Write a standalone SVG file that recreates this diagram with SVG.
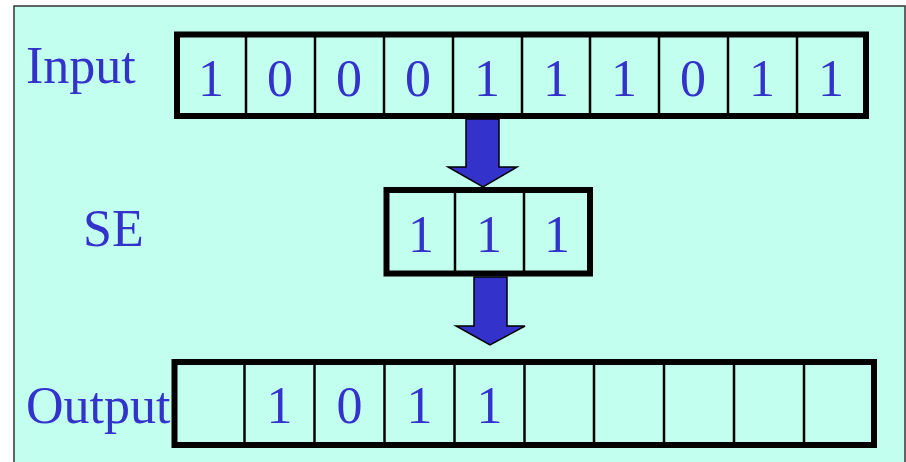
<svg xmlns="http://www.w3.org/2000/svg" width="906" height="462" viewBox="0 0 906 462">
<style>
.t{font-family:"Liberation Serif","Times New Roman",serif;font-size:52px;fill:#3333CC}
.d{text-anchor:middle}
.frame{fill:none;stroke:#000;stroke-width:6}
.div{stroke:#000;stroke-width:2.5}
.arrow{fill:#3333CC;stroke:#000;stroke-width:1.5}
</style>
<rect x="0" y="0" width="906" height="462" fill="#fff"/>
<rect x="14" y="6" width="891" height="460" fill="#C2FFEE" stroke="#333" stroke-width="1.5"/>
<g id="input">
<text class="t" x="26" y="83">Input</text>
<rect x="177" y="34.5" width="689" height="81.5" fill="#C2FFEE" class="frame"/>
<g class="div"><line x1="246" y1="34" x2="246" y2="116"/><line x1="315" y1="34" x2="315" y2="116"/><line x1="384" y1="34" x2="384" y2="116"/><line x1="453" y1="34" x2="453" y2="116"/><line x1="522" y1="34" x2="522" y2="116"/><line x1="590" y1="34" x2="590" y2="116"/><line x1="659" y1="34" x2="659" y2="116"/><line x1="728" y1="34" x2="728" y2="116"/><line x1="797" y1="34" x2="797" y2="116"/></g>
<g class="t d"><text x="211" y="96">1</text><text x="280" y="96">0</text><text x="349" y="96">0</text><text x="418" y="96">0</text><text x="487" y="96">1</text><text x="556" y="96">1</text><text x="624" y="96">1</text><text x="693" y="96">0</text><text x="762" y="96">1</text><text x="831" y="96">1</text></g>
</g>
<g id="se">
<text class="t" x="83" y="246">SE</text>
<rect x="386.5" y="190" width="203.5" height="83.5" fill="#C2FFEE" class="frame"/>
<g class="div"><line x1="455" y1="190" x2="455" y2="274"/><line x1="524" y1="190" x2="524" y2="274"/></g>
<g class="t d"><text x="421" y="252">1</text><text x="489" y="252">1</text><text x="557" y="252">1</text></g>
</g>
<g id="output">
<text class="t" x="26" y="423">Output</text>
<rect x="174.5" y="362" width="699.5" height="83" fill="none" class="frame"/>
<g class="div"><line x1="244.5" y1="362" x2="244.5" y2="445"/><line x1="314.5" y1="362" x2="314.5" y2="445"/><line x1="384.5" y1="362" x2="384.5" y2="445"/><line x1="454.5" y1="362" x2="454.5" y2="445"/><line x1="524.5" y1="362" x2="524.5" y2="445"/><line x1="594" y1="362" x2="594" y2="445"/><line x1="664" y1="362" x2="664" y2="445"/><line x1="734" y1="362" x2="734" y2="445"/><line x1="804" y1="362" x2="804" y2="445"/></g>
<g class="t d"><text x="279.5" y="423">1</text><text x="349.5" y="423">0</text><text x="419.5" y="423">1</text><text x="489.5" y="423">1</text></g>
</g>
<g id="connectors">
<polygon class="arrow" points="466,119 499,119 499,167 517,167 483,187 448,167 466,167"/>
<polygon class="arrow" points="474,277 507,277 507,326 525,326 490,345 456,326 474,326"/>
</g>
</svg>
